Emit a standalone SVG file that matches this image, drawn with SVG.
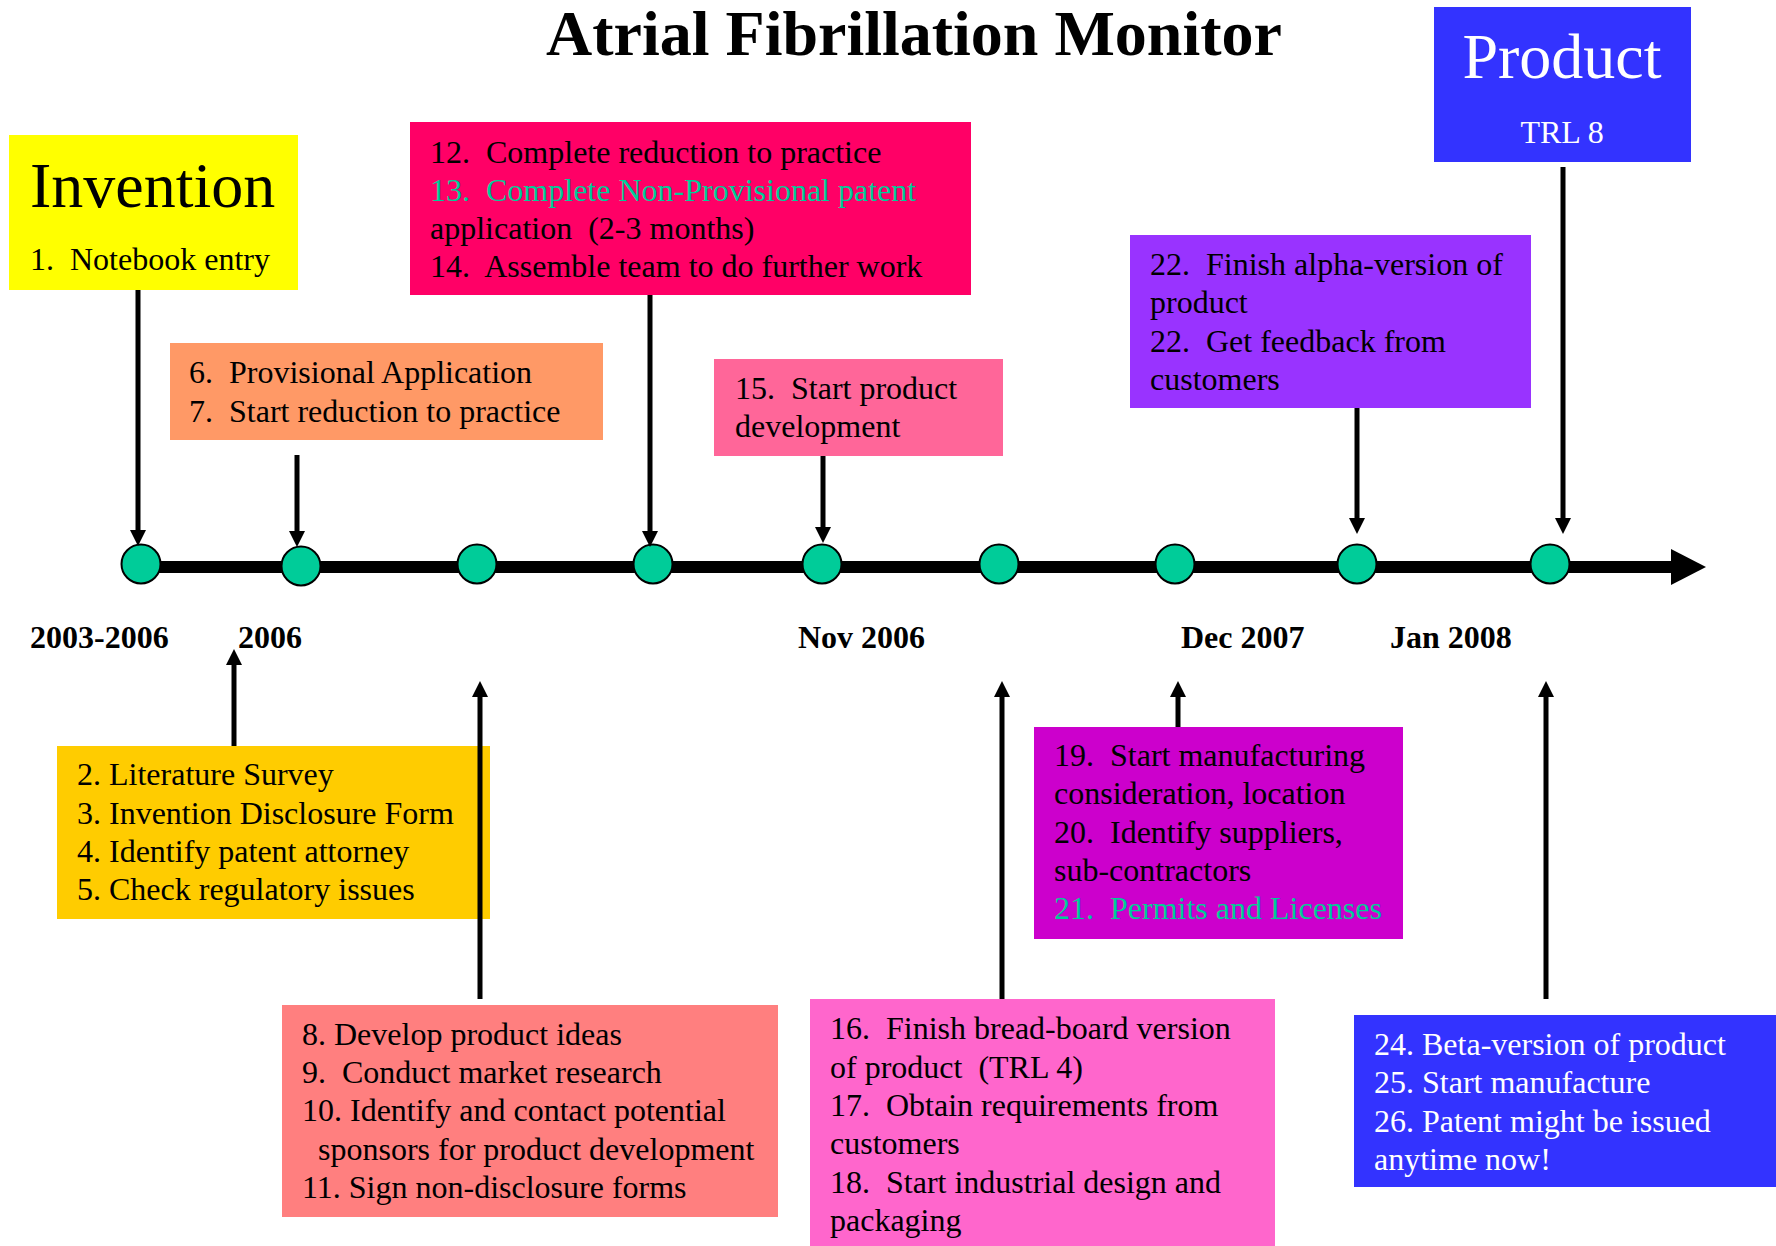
<svg xmlns="http://www.w3.org/2000/svg" width="1776" height="1246" viewBox="0 0 1776 1246">
  <style>
    text { font-family: "Liberation Serif", "Times New Roman", serif; white-space: pre; }
    .body { font-size: 32px; fill: #000; }
    .white { fill: #fff; }
    .teal { fill: #00CC99; }
    .date { font-size: 32px; font-weight: bold; fill: #000; }
    .big { font-size: 64px; }
    .conn { stroke: #000; stroke-width: 5; fill: none; }
    .dot { fill: #00CC99; stroke: #000; stroke-width: 2; }
  </style>
  <defs>
    <marker id="head" viewBox="0 0 16 16" markerWidth="16" markerHeight="16" refX="1" refY="8" orient="auto" markerUnits="userSpaceOnUse">
      <path d="M0,0 L16,8 L0,16 z" fill="#000"/>
    </marker>
  </defs>
  <rect width="1776" height="1246" fill="#fff"/>

  <text x="914" y="55" text-anchor="middle" style="font-size:64px;font-weight:bold">Atrial Fibrillation Monitor</text>

  <!-- timeline axis -->
  <g id="timeline">
    <line x1="140" y1="567" x2="1672" y2="567" stroke="#000" stroke-width="12"/>
    <polygon points="1671,549 1706,567 1671,585" fill="#000"/>
  </g>

  <!-- milestones on the axis -->
  <g id="milestones">
    <circle class="dot" cx="141" cy="564" r="19.5"/>
    <circle class="dot" cx="301" cy="566" r="19.5"/>
    <circle class="dot" cx="477" cy="564" r="19.5"/>
    <circle class="dot" cx="653" cy="564" r="19.5"/>
    <circle class="dot" cx="822" cy="564" r="19.5"/>
    <circle class="dot" cx="999" cy="564" r="19.5"/>
    <circle class="dot" cx="1175" cy="564" r="19.5"/>
    <circle class="dot" cx="1357" cy="564" r="19.5"/>
    <circle class="dot" cx="1550" cy="564" r="19.5"/>
  </g>

  <g id="dates">
    <text class="date" x="30" y="648">2003-2006</text>
    <text class="date" x="238" y="648">2006</text>
    <text class="date" x="798" y="648">Nov 2006</text>
    <text class="date" x="1181" y="648">Dec 2007</text>
    <text class="date" x="1390" y="648">Jan 2008</text>
  </g>

  <g id="invention">
    <rect x="9" y="135" width="289" height="155" fill="#FFFF00"/>
    <text class="body big" x="30" y="207">Invention</text>
    <text class="body" x="30" y="270">1.  Notebook entry</text>
  </g>

  <g id="step-6-7">
    <rect x="170" y="343" width="433" height="97" fill="#FF9966"/>
    <text class="body" x="189" y="383">6.  Provisional Application</text>
    <text class="body" x="189" y="422">7.  Start reduction to practice</text>
  </g>

  <g id="step-12-14">
    <rect x="410" y="122" width="561" height="173" fill="#FF0066"/>
    <text class="body" x="430" y="163">12.  Complete reduction to practice</text>
    <text class="body teal" x="430" y="201">13.  Complete Non-Provisional patent</text>
    <text class="body" x="430" y="239">application  (2-3 months)</text>
    <text class="body" x="430" y="277">14.  Assemble team to do further work</text>
  </g>

  <g id="step-15">
    <rect x="714" y="359" width="289" height="97" fill="#FF6699"/>
    <text class="body" x="735" y="399">15.  Start product</text>
    <text class="body" x="735" y="437">development</text>
  </g>

  <g id="step-22">
    <rect x="1130" y="235" width="401" height="173" fill="#9933FF"/>
    <text class="body" x="1150" y="275">22.  Finish alpha-version of</text>
    <text class="body" x="1150" y="313">product</text>
    <text class="body" x="1150" y="352">22.  Get feedback from</text>
    <text class="body" x="1150" y="390">customers</text>
  </g>

  <g id="product">
    <rect x="1434" y="7" width="257" height="155" fill="#3333FF"/>
    <text class="body big white" x="1562" y="78" text-anchor="middle">Product</text>
    <text class="body white" x="1562" y="143" text-anchor="middle">TRL 8</text>
  </g>

  <g id="step-2-5">
    <rect x="57" y="746" width="433" height="173" fill="#FFCC00"/>
    <text class="body" x="77" y="785">2. Literature Survey</text>
    <text class="body" x="77" y="824">3. Invention Disclosure Form</text>
    <text class="body" x="77" y="862">4. Identify patent attorney</text>
    <text class="body" x="77" y="900">5. Check regulatory issues</text>
  </g>

  <g id="step-8-11">
    <rect x="282" y="1005" width="496" height="212" fill="#FF7F7F"/>
    <text class="body" x="302" y="1045">8. Develop product ideas</text>
    <text class="body" x="302" y="1083">9.  Conduct market research</text>
    <text class="body" x="302" y="1121">10. Identify and contact potential</text>
    <text class="body" x="318" y="1160">sponsors for product development</text>
    <text class="body" x="302" y="1198">11. Sign non-disclosure forms</text>
  </g>

  <g id="step-16-18">
    <rect x="810" y="999" width="465" height="247" fill="#FF66CC"/>
    <text class="body" x="830" y="1039">16.  Finish bread-board version</text>
    <text class="body" x="830" y="1078">of product  (TRL 4)</text>
    <text class="body" x="830" y="1116">17.  Obtain requirements from</text>
    <text class="body" x="830" y="1154">customers</text>
    <text class="body" x="830" y="1193">18.  Start industrial design and</text>
    <text class="body" x="830" y="1231">packaging</text>
  </g>

  <g id="step-19-21">
    <rect x="1034" y="727" width="369" height="212" fill="#CC00CC"/>
    <text class="body" x="1054" y="766">19.  Start manufacturing</text>
    <text class="body" x="1054" y="804">consideration, location</text>
    <text class="body" x="1054" y="843">20.  Identify suppliers,</text>
    <text class="body" x="1054" y="881">sub-contractors</text>
    <text class="body teal" x="1054" y="919">21.  Permits and Licenses</text>
  </g>

  <g id="step-24-26">
    <rect x="1354" y="1015" width="422" height="172" fill="#3333FF"/>
    <text class="body white" x="1374" y="1055">24. Beta-version of product</text>
    <text class="body white" x="1374" y="1093">25. Start manufacture</text>
    <text class="body white" x="1374" y="1132">26. Patent might be issued</text>
    <text class="body white" x="1374" y="1170">anytime now!</text>
  </g>

  <!-- connectors, drawn last so the long riser crosses over the 2-5 box -->
  <g id="connectors">
    <line class="conn" x1="138" y1="290" x2="138" y2="531" marker-end="url(#head)"/>
    <line class="conn" x1="297" y1="455" x2="297" y2="532" marker-end="url(#head)"/>
    <line class="conn" x1="650" y1="295" x2="650" y2="532" marker-end="url(#head)"/>
    <line class="conn" x1="823" y1="456" x2="823" y2="528" marker-end="url(#head)"/>
    <line class="conn" x1="1357" y1="408" x2="1357" y2="519" marker-end="url(#head)"/>
    <line class="conn" x1="1563" y1="167" x2="1563" y2="519" marker-end="url(#head)"/>
    <line class="conn" x1="234" y1="746" x2="234" y2="664" marker-end="url(#head)"/>
    <line class="conn" x1="480" y1="999" x2="480" y2="696" marker-end="url(#head)"/>
    <line class="conn" x1="1002" y1="999" x2="1002" y2="696" marker-end="url(#head)"/>
    <line class="conn" x1="1178" y1="727" x2="1178" y2="696" marker-end="url(#head)"/>
    <line class="conn" x1="1546" y1="999" x2="1546" y2="696" marker-end="url(#head)"/>
  </g>
</svg>
